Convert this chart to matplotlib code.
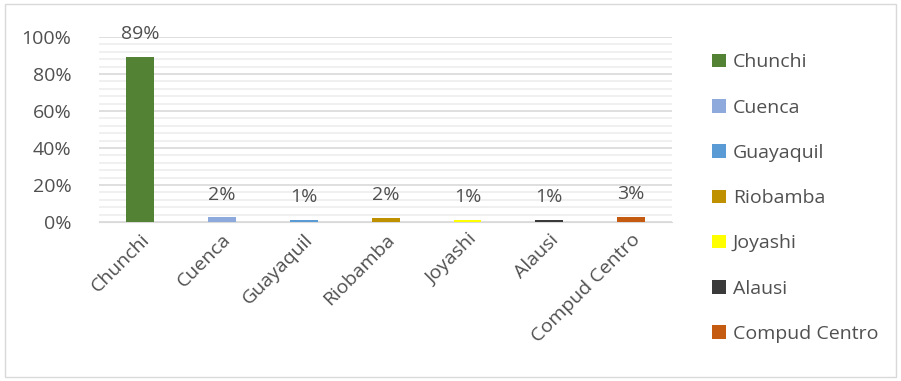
import matplotlib.pyplot as plt
from matplotlib.patches import Rectangle
from matplotlib.ticker import MultipleLocator, PercentFormatter

plt.rcParams['font.family'] = ['Open Sans', 'DejaVu Sans']

ciudades = ['Chunchi', 'Cuenca', 'Guayaquil', 'Riobamba', 'Joyashi', 'Alausi', 'Compud Centro']
valores = [0.89, 0.025, 0.012, 0.022, 0.012, 0.012, 0.03]
etiquetas = ['89%', '2%', '1%', '2%', '1%', '1%', '3%']
colores = ['#548235', '#8EA9DB', '#5B9BD5', '#BF9000', '#FFFF00', '#3A3A3A', '#C55A11']

texto = '#505050'

fig = plt.figure(figsize=(9.01, 3.81), dpi=100)
ax = fig.add_axes([0.11, 0.417, 0.636, 0.486])

barras = ax.bar(range(len(ciudades)), valores, width=0.34, color=colores, label=ciudades, zorder=3)

for b, t in zip(barras, etiquetas):
    ax.annotate(t, (b.get_x() + b.get_width() / 2, b.get_height()), xytext=(0, 10),
                textcoords='offset points', ha='center', va='bottom', fontsize=14, color=texto)

ax.set_ylim(0, 1)
ax.set_xlim(-0.5, len(ciudades) - 0.5)
ax.yaxis.set_major_locator(MultipleLocator(0.2))
ax.yaxis.set_minor_locator(MultipleLocator(0.04))
ax.yaxis.set_major_formatter(PercentFormatter(1.0, decimals=0))
ax.grid(axis='y', which='major', color='#D9D9D9', linewidth=1.2, zorder=0)
ax.grid(axis='y', which='minor', color='#EDEDED', linewidth=1.2, zorder=0)

ax.set_xticks(range(len(ciudades)))
ax.set_xticklabels(ciudades, rotation=45, ha='right', rotation_mode='anchor', fontsize=14, color=texto)
ax.tick_params(axis='y', labelsize=14, labelcolor=texto, length=0, pad=20)
ax.tick_params(axis='y', which='minor', length=0)
ax.tick_params(axis='x', length=0, pad=6)

for s in ['top', 'right', 'left']:
    ax.spines[s].set_visible(False)
ax.spines['bottom'].set_color('#D9D9D9')

leg = fig.legend(handles=barras, labels=ciudades, loc='upper left', bbox_to_anchor=(0.782, 0.88),
                 frameon=False, fontsize=14, labelcolor=texto, handlelength=0.7, handleheight=0.7,
                 handletextpad=0.35, labelspacing=1.4, borderaxespad=0)

fig.patches.append(Rectangle((0.006, 0.01), 0.988, 0.98, transform=fig.transFigure,
                             fill=False, edgecolor='#D9D9D9', linewidth=1))

fig.savefig('out.png', dpi=100)
